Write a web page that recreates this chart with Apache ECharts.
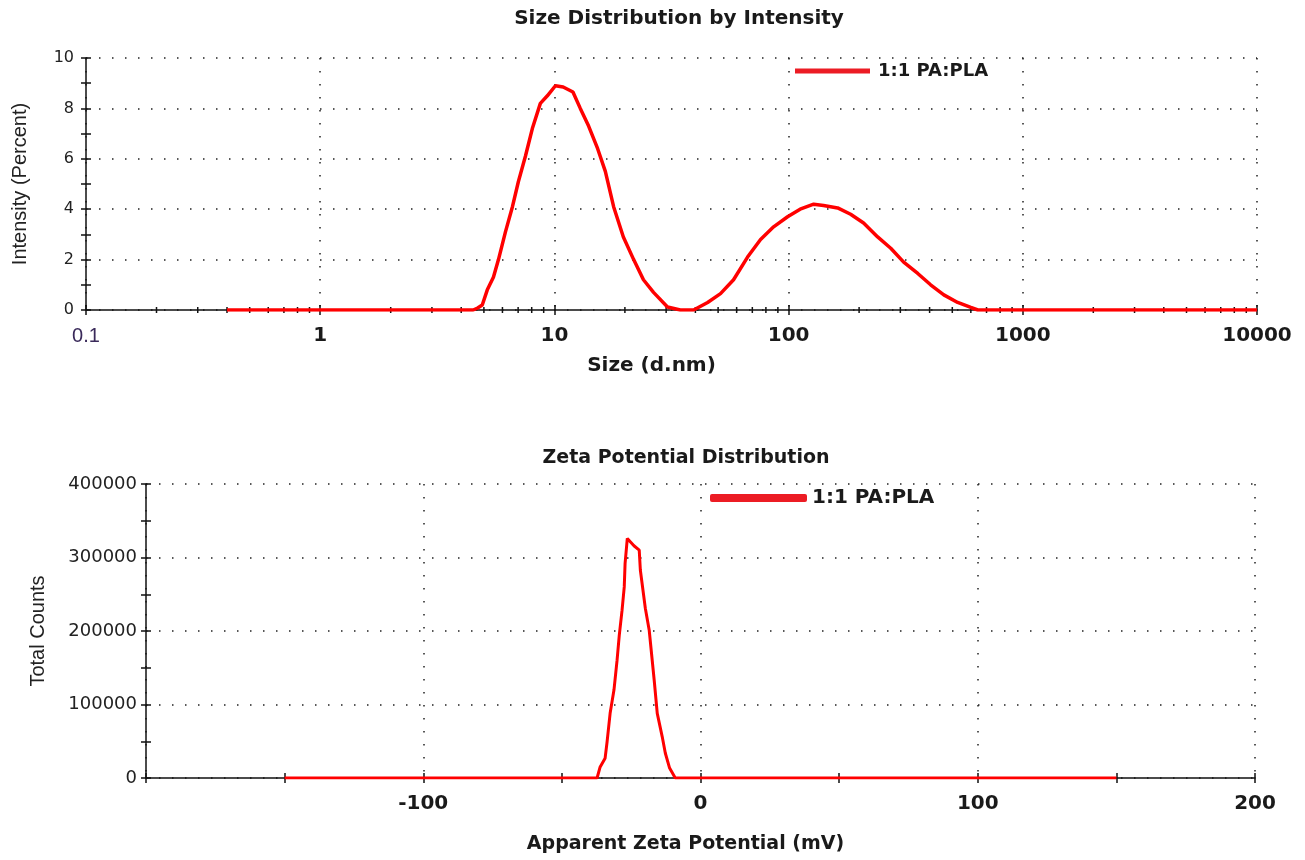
<!DOCTYPE html>
<html>
<head>
<meta charset="utf-8">
<script src="https://cdn.jsdelivr.net/npm/echarts@6/dist/echarts.min.js"></script>
<style>
  html, body { margin: 0; padding: 0; background: #ffffff; }
  #chart { width: 1305px; height: 860px; }
</style>
</head>
<body>
<div id="chart"></div>
<script>
// ---- Data: Size Distribution by Intensity ----
const seriesName = '1:1 PA:PLA';
const sizeNm = [0.4, 4.5, 4.7, 4.92, 5.17, 5.49, 5.77, 6.18, 6.62, 7.02, 7.52, 8.05, 8.71, 9.33, 10.1, 10.9, 12.0, 12.9, 14.0, 15.3, 16.5, 17.9, 19.7, 21.8, 24.0, 26.5, 30.4, 34.5, 39.3, 45.1, 51.2, 58.2, 66.8, 75.9, 86.3, 99.0, 112, 128, 141, 162, 184, 209, 240, 273, 310, 356, 404, 460, 527, 600, 643, 10000];
const intensityPct = [0, 0, 0.08, 0.2, 0.8, 1.3, 2.0, 3.1, 4.1, 5.1, 6.1, 7.2, 8.2, 8.5, 8.9, 8.85, 8.65, 8.0, 7.3, 6.4, 5.5, 4.1, 2.9, 2.0, 1.2, 0.7, 0.12, 0, 0, 0.3, 0.65, 1.2, 2.1, 2.8, 3.3, 3.7, 4.0, 4.2, 4.15, 4.05, 3.8, 3.45, 2.9, 2.45, 1.9, 1.45, 1.0, 0.6, 0.3, 0.1, 0, 0];

// ---- Data: Zeta Potential Distribution ----
const zetaMv = [-150, -37.3, -36.2, -34.4, -33.7, -32.6, -31.2, -30.1, -29.3, -28.3, -27.5, -27.2, -26.4, -25.9, -24.0, -22.1, -21.7, -19.9, -18.5, -16.7, -15.6, -13.8, -12.7, -11.2, -9.1, 150];
const totalCounts = [0, 0, 15000, 27000, 49000, 88000, 120000, 160000, 194000, 228000, 260000, 292000, 326000, 326000, 316000, 310000, 283000, 231000, 201000, 133000, 88000, 56000, 34000, 14000, 0, 0];

// ---- Axis ticks ----
const sizeDecadeMultipliers = [2, 3, 4, 5, 6, 7, 8, 9];
const sizeDecades = [0.1, 1, 10, 100, 1000];

const minorLogTicks = [];
sizeDecades.forEach(d => sizeDecadeMultipliers.forEach(m => minorLogTicks.push(+(d * m).toPrecision(6))));

const sizeData = sizeNm.map((x, i) => [x, intensityPct[i]]);
const zetaData = zetaMv.map((x, i) => [x, totalCounts[i]]);

const RED = '#ff0000';
const AXIS = '#111111';
const TXT = '#1a1a1a';
const gridDot = { color: '#222222', width: 1.5, type: [1.5, 11.5] };
const boldFont = 'DejaVu Sans';

const chart = echarts.init(document.getElementById('chart'), null, { renderer: 'canvas' });

function dupAxis(base, pos) {
  return Object.assign({}, base, {
    position: pos,
    axisLabel: { show: false },
    splitLine: { show: false },
    axisLine: { show: false, onZero: false },
    axisTick: { show: true, inside: true, length: 5, lineStyle: { color: AXIS, width: 1.5 } },
    name: ''
  });
}

const x0 = {
  gridIndex: 0, type: 'log', logBase: 10, min: 0.1, max: 10000, position: 'bottom',
  axisLine: { show: true, onZero: false, lineStyle: { color: AXIS, width: 1.5 } },
  axisTick: { show: true, length: 5, lineStyle: { color: AXIS, width: 1.5 } },
  axisLabel: {
    margin: 16,
    fontFamily: boldFont, fontSize: 20, fontWeight: 'bold', color: TXT,
    formatter: v => (v < 1 ? '{s|' + v + '}' : String(Math.round(v))),
    rich: { s: { fontFamily: 'Liberation Sans', fontSize: 20, fontWeight: 'normal', color: '#3a2a5a' } }
  },
  splitLine: { show: true, lineStyle: gridDot },
  name: 'Size (d.nm)', nameLocation: 'middle', nameGap: 46,
  nameTextStyle: { fontFamily: boldFont, fontSize: 20, fontWeight: 'bold', color: TXT, padding: [0, 40, 0, 0] }
};
const y0 = {
  gridIndex: 0, type: 'value', min: 0, max: 10, interval: 2, position: 'left',
  axisLine: { show: true, onZero: false, lineStyle: { color: AXIS, width: 1.5 } },
  axisTick: { show: true, length: 5, lineStyle: { color: AXIS, width: 1.5 } },
  minorTick: { show: true, splitNumber: 2, length: 5, lineStyle: { color: AXIS, width: 1.5 } },
  axisLabel: { margin: 12, fontFamily: 'DejaVu Sans', fontSize: 16, color: '#222222' },
  splitLine: { show: true, lineStyle: gridDot },
  name: 'Intensity (Percent)', nameLocation: 'middle', nameGap: 56,
  nameTextStyle: { fontFamily: 'Liberation Sans', fontSize: 20, color: '#222222' }
};
const x2 = {
  gridIndex: 1, type: 'value', min: -200, max: 200, interval: 100, position: 'bottom',
  axisLine: { show: true, onZero: false, lineStyle: { color: AXIS, width: 1.5 } },
  axisTick: { show: true, length: 5, lineStyle: { color: AXIS, width: 1.5 } },
  minorTick: { show: true, splitNumber: 2, length: 5, lineStyle: { color: AXIS, width: 1.5 } },
  axisLabel: { margin: 16, showMinLabel: false, fontFamily: boldFont, fontSize: 20, fontWeight: 'bold', color: TXT },
  splitLine: { show: true, lineStyle: gridDot },
  name: 'Apparent Zeta Potential (mV)', nameLocation: 'middle', nameGap: 57,
  nameTextStyle: { fontFamily: boldFont, fontSize: 19, fontWeight: 'bold', color: TXT, padding: [0, 30, 0, 0] }
};
const y2 = {
  gridIndex: 1, type: 'value', min: 0, max: 400000, interval: 100000, position: 'left',
  axisLine: { show: true, onZero: false, lineStyle: { color: AXIS, width: 1.5 } },
  axisTick: { show: true, length: 5, lineStyle: { color: AXIS, width: 1.5 } },
  minorTick: { show: true, splitNumber: 2, length: 5, lineStyle: { color: AXIS, width: 1.5 } },
  axisLabel: { margin: 9, fontFamily: 'DejaVu Sans', fontSize: 18, color: '#222222', formatter: v => String(v) },
  splitLine: { show: true, lineStyle: gridDot },
  name: 'Total Counts', nameLocation: 'middle', nameGap: 98,
  nameTextStyle: { fontFamily: 'Liberation Sans', fontSize: 20, color: '#222222' }
};

const option = {
  backgroundColor: '#ffffff',
  animation: false,
  graphic: [
    {
      type: 'text', x: 679, y: 19, silent: true,
      style: { text: 'Size Distribution by Intensity', textAlign: 'center', textVerticalAlign: 'middle',
               fontFamily: boldFont, fontSize: 20, fontWeight: 'bold', fill: TXT }
    },
    {
      type: 'text', x: 686, y: 458, silent: true,
      style: { text: 'Zeta Potential Distribution', textAlign: 'center', textVerticalAlign: 'middle',
               fontFamily: boldFont, fontSize: 19, fontWeight: 'bold', fill: TXT }
    }
  ],
  legend: [
    {
      left: 790, top: 57, icon: 'rect', itemWidth: 75, itemHeight: 5, itemGap: 0,
      data: [{ name: seriesName, itemStyle: { color: '#ec1c24' } }],
      textStyle: { fontFamily: boldFont, fontSize: 18, fontWeight: 'bold', color: TXT, padding: [0, 0, 0, 3] },
      selectedMode: false
    },
    {
      left: 705, top: 483, icon: 'roundRect', itemWidth: 97, itemHeight: 8, itemGap: 0,
      data: [{ name: seriesName, itemStyle: { color: '#ec1c24' } }],
      textStyle: { fontFamily: boldFont, fontSize: 20, fontWeight: 'bold', color: TXT, padding: [0, 0, 0, 0] },
      selectedMode: false
    }
  ],
  grid: [
    { left: 86, right: 48, top: 58, height: 252, containLabel: false },
    { left: 146, right: 50, top: 484, height: 294, containLabel: false }
  ],
  xAxis: [x0, dupAxis(x0, 'bottom'), x2, dupAxis(x2, 'bottom')],
  yAxis: [y0, dupAxis(y0, 'left'), y2, dupAxis(y2, 'left')],
  series: [
    {
      name: seriesName, type: 'line', xAxisIndex: 0, yAxisIndex: 0,
      data: sizeData, showSymbol: false, symbol: 'none',
      lineStyle: { color: RED, width: 3.5 }, itemStyle: { color: RED }, z: 5
    },
    {
      name: seriesName, type: 'line', xAxisIndex: 2, yAxisIndex: 2,
      data: zetaData, showSymbol: false, symbol: 'none',
      lineStyle: { color: RED, width: 3 }, itemStyle: { color: RED }, z: 5
    },
    {
      name: 'log minor ticks', type: 'custom', xAxisIndex: 0, yAxisIndex: 0,
      silent: true, clip: false, z: 3,
      data: minorLogTicks.map(v => [v, 0]),
      renderItem: function (params, api) {
        const p = api.coord([api.value(0), 0]);
        return {
          type: 'line',
          shape: { x1: p[0], y1: p[1] - 3, x2: p[0], y2: p[1] + 3 },
          style: { stroke: AXIS, lineWidth: 1.5 }
        };
      }
    }
  ]
};

chart.setOption(option);
</script>
</body>
</html>
